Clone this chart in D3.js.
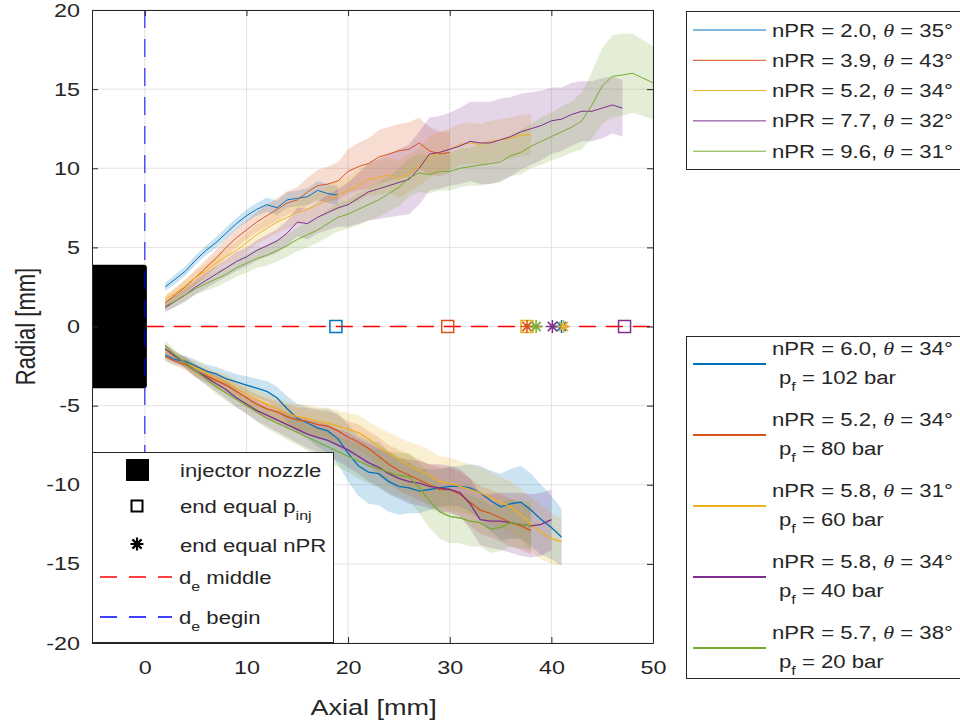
<!DOCTYPE html>
<html>
<head>
<meta charset="utf-8">
<script src="https://cdn.jsdelivr.net/npm/d3@7"></script>
<style>
  body { margin: 0; background: #fff; }
  svg text { font-family: "Liberation Sans", Arial, sans-serif; fill: #262626; }
</style>
</head>
<body>
<div id="chart"></div>
<script>
// axial grid (mm) shared by all series, each series is cut where it ends
const axialGrid = [2,3,4,5,6,7,8,9,10,11,12,13,14,15,16,17,18,19,20,21,22,23,24,25,26,27,28,29,30,31,32,33,34,35,36,37,38,39,40,41,42,43,44,45,46,47,48,49,50];

const colors = ["#0072BD", "#D95319", "#EDB120", "#7E2F8E", "#77AC30"];

// upper half: nPR series
const upLabels = [["2.0", "35"], ["3.9", "43"], ["5.2", "34"], ["7.7", "32"], ["9.6", "31"]];
const upBlue   = [2.5,3.0,3.5,4.2,4.8,5.3,5.9,6.5,7.0,7.4,7.7,7.5,8.0,8.1,8.2,8.6,8.4,8.3];
const upBlueW  = [0.25,0.3,0.3,0.3,0.3,0.35,0.35,0.35,0.4,0.4,0.45,0.45,0.5,0.5,0.55,0.6,0.6,0.6];
const upOrange = [1.5,2.0,2.5,3.1,3.7,4.3,5.0,5.6,6.1,6.6,7.0,7.4,7.8,8.0,8.5,8.9,9.0,9.2,9.8,10.1,10.3,10.7,10.9,11.1,11.2,11.6,11.1,10.9,11.0];
const upOrangeW = [0.4,0.4,0.45,0.5,0.5,0.55,0.6,0.6,0.6,0.65,0.7,0.7,0.75,0.8,0.9,1.0,1.1,1.2,1.4,1.5,1.6,1.7,1.7,1.7,1.7,1.6,1.5,1.4,1.3];
const upYellow = [1.7,2.1,2.6,3.1,3.5,4.0,4.4,4.8,5.3,5.8,6.2,6.6,6.9,7.2,7.4,7.7,8.0,8.3,8.6,8.9,9.3,9.4,9.6,9.3,9.7,10.1,10.7,11.0,11.2,11.5,11.6,11.5,11.7,11.8,11.9,12.1,12.1];
const upYellowW = [0.3,0.35,0.4,0.4,0.45,0.5,0.5,0.55,0.6,0.6,0.65,0.7,0.7,0.75,0.8,0.8,0.85,0.9,0.9,1.0,1.0,1.1,1.1,1.2,1.2,1.2,1.3,1.3,1.3,1.3,1.3,1.3,1.3,1.3,1.3,1.3,1.3];
const upPurple = [1.2,1.6,2.0,2.5,2.9,3.3,3.7,4.1,4.4,4.8,5.1,5.4,5.9,6.6,6.5,6.9,7.2,7.5,7.7,8.1,8.5,8.7,8.9,9.1,9.3,10.0,10.9,11.0,11.2,11.4,11.7,11.6,11.6,11.8,12.0,12.3,12.5,12.7,13.0,13.1,13.4,13.6,13.6,13.8,14.0,13.8];
const upPurpleW = [0.3,0.35,0.4,0.45,0.5,0.5,0.55,0.6,0.6,0.65,0.7,0.75,0.8,0.9,1.0,1.0,1.1,1.2,1.4,1.6,1.8,1.9,2.0,2.1,2.2,2.3,2.3,2.3,2.3,2.4,2.5,2.6,2.6,2.6,2.5,2.4,2.3,2.2,2.1,2.0,2.0,1.9,1.9,1.9,1.8,1.8];
const upGreen  = [1.3,1.6,2.0,2.4,2.7,3.0,3.3,3.7,4.0,4.3,4.5,4.8,5.1,5.5,5.8,6.1,6.5,6.9,7.1,7.4,7.7,8.0,8.4,8.8,9.4,9.7,9.6,9.8,9.8,10.0,10.1,10.2,10.3,10.4,10.8,11.0,11.4,11.7,12.0,12.3,12.6,13.0,14.0,15.2,15.8,15.9,16.0,15.7,15.4];
const upGreenW = [0.3,0.35,0.4,0.4,0.45,0.5,0.5,0.55,0.6,0.6,0.65,0.7,0.7,0.75,0.8,0.8,0.85,0.9,0.9,1.0,1.0,1.1,1.1,1.2,1.2,1.2,1.2,1.2,1.2,1.2,1.2,1.3,1.3,1.3,1.3,1.4,1.4,1.5,1.5,1.6,1.6,1.8,2.1,2.4,2.6,2.6,2.5,2.4,2.3];

// lower half: chamber pressure series
const lowLabels = [["6.0", "34", "102"], ["5.2", "34", "80"], ["5.8", "31", "60"], ["5.8", "34", "40"], ["5.7", "38", "20"]];
const lowBlue   = [-1.8,-2.1,-2.2,-2.5,-2.8,-3.0,-3.3,-3.5,-3.7,-3.9,-4.1,-4.5,-5.2,-5.8,-6.1,-6.4,-6.6,-7.1,-8.0,-8.8,-9.2,-9.3,-9.8,-10.1,-10.2,-10.4,-10.3,-10.2,-10.1,-10.1,-10.2,-10.5,-11.0,-11.4,-11.2,-11.1,-11.6,-12.2,-12.7,-13.3];
const lowBlueW  = [0.3,0.3,0.35,0.4,0.4,0.45,0.5,0.5,0.55,0.6,0.65,0.7,0.8,0.9,1.0,1.2,1.4,1.6,1.8,1.9,2.0,2.0,1.9,1.8,1.6,1.4,1.3,1.2,1.2,1.3,1.5,1.7,1.9,2.1,2.2,2.3,2.3,2.2,2.0,1.8];
const lowOrange = [-1.9,-2.2,-2.4,-2.8,-3.1,-3.4,-3.7,-4.1,-4.5,-4.9,-5.2,-5.4,-5.7,-5.9,-6.0,-6.2,-6.3,-6.6,-7.0,-7.3,-7.7,-8.2,-8.7,-9.1,-9.4,-9.7,-10.0,-10.3,-10.3,-10.6,-11.1,-11.6,-11.8,-12.1,-12.4,-12.6,-12.9];
const lowOrangeW = [0.3,0.3,0.35,0.4,0.4,0.45,0.5,0.5,0.55,0.6,0.65,0.7,0.75,0.8,0.85,0.9,0.95,1.0,1.0,1.1,1.1,1.2,1.2,1.3,1.3,1.3,1.3,1.4,1.4,1.4,1.5,1.5,1.5,1.5,1.5,1.5,1.5];
const lowYellow = [-1.5,-1.9,-2.3,-2.6,-2.9,-3.3,-3.5,-3.9,-4.3,-4.6,-4.9,-5.2,-5.5,-5.7,-5.8,-6.0,-6.1,-6.3,-6.5,-6.7,-7.1,-7.6,-8.0,-8.4,-8.8,-9.1,-9.4,-9.8,-9.9,-10.1,-10.3,-10.5,-10.8,-11.1,-11.4,-11.9,-12.5,-13.0,-13.4,-13.6];
const lowYellowW = [0.3,0.3,0.35,0.4,0.4,0.45,0.5,0.5,0.55,0.6,0.65,0.7,0.75,0.8,0.85,0.9,0.95,1.0,1.0,1.1,1.1,1.2,1.3,1.4,1.5,1.6,1.6,1.6,1.6,1.6,1.6,1.6,1.6,1.6,1.6,1.6,1.7,1.7,1.6,1.5];
const lowPurple = [-1.4,-1.9,-2.3,-2.8,-3.2,-3.6,-4.0,-4.5,-4.9,-5.3,-5.6,-5.9,-6.2,-6.5,-6.8,-7.0,-7.2,-7.5,-7.8,-8.2,-8.6,-8.9,-9.3,-9.6,-9.8,-9.9,-10.1,-10.2,-10.3,-10.5,-11.2,-12.2,-12.3,-12.3,-12.4,-12.5,-12.6,-12.5,-12.2];
const lowPurpleW = [0.3,0.3,0.35,0.4,0.45,0.5,0.55,0.6,0.6,0.65,0.7,0.75,0.8,0.85,0.9,0.95,1.0,1.0,1.1,1.1,1.2,1.2,1.3,1.3,1.4,1.4,1.4,1.5,1.5,1.5,1.6,1.6,1.7,1.8,1.9,2.0,2.0,2.0,1.9];
const lowGreen  = [-1.2,-1.8,-2.3,-2.8,-3.3,-3.8,-4.2,-4.6,-5.0,-5.4,-5.8,-6.1,-6.4,-6.7,-7.0,-7.3,-7.6,-7.9,-8.2,-8.5,-8.8,-9.0,-9.2,-9.4,-9.5,-10.2,-11.0,-11.7,-12.0,-12.1,-12.3,-12.4,-12.8,-12.7,-12.4,-12.5,-12.6];
const lowGreenW = [0.3,0.3,0.35,0.4,0.4,0.45,0.5,0.5,0.55,0.6,0.65,0.7,0.75,0.8,0.85,0.9,0.95,1.0,1.0,1.1,1.1,1.2,1.3,1.4,1.5,1.6,1.7,1.7,1.7,1.6,1.6,1.5,1.5,1.5,1.5,1.5,1.5];

// end markers on the axis (x in mm, colour index)
const squareEnds = [[18.8, 0], [29.8, 1], [37.6, 2], [47.2, 3]];
const starEnds = [[37.6, 1], [38.5, 4], [40.1, 3], [41.0, 0], [41.2, 2]];

const nozzleHalf = 3.9;
const nozzleEnd = 0.2;

const xTicks = [0, 10, 20, 30, 40, 50];
const yTicks = [-20, -15, -10, -5, 0, 5, 10, 15, 20];

const upSeries = [[upBlue, upBlueW], [upOrange, upOrangeW], [upYellow, upYellowW], [upPurple, upPurpleW], [upGreen, upGreenW]];
const lowSeries = [[lowBlue, lowBlueW], [lowOrange, lowOrangeW], [lowYellow, lowYellowW], [lowPurple, lowPurpleW], [lowGreen, lowGreenW]];

const W = 960, H = 724;
const L = 92, T = 10, R = 653, B = 643;
const SX = 1.23; // the figure text is stretched sideways

const svg = d3.select("#chart").append("svg").attr("width", W).attr("height", H);

const x = d3.scaleLinear().domain([-5.2, 50]).range([L, R]);
const y = d3.scaleLinear().domain([-20, 20]).range([B, T]);

svg.append("clipPath").attr("id", "clip")
  .append("rect").attr("x", L).attr("y", T).attr("width", R - L).attr("height", B - T);

// text placed in a stretched group
function stext(g, px, py, size, anchor) {
  return g.append("g").attr("transform", `translate(${px},${py}) scale(${SX},1)`)
    .append("text").attr("font-size", size).attr("text-anchor", anchor || "start");
}

// grid
const grid = svg.append("g");
grid.selectAll(".gx").data(xTicks).enter().append("line")
  .attr("x1", d => x(d)).attr("x2", d => x(d)).attr("y1", T).attr("y2", B)
  .attr("stroke", "#e3e3e3").attr("stroke-width", 1);
grid.selectAll(".gy").data(yTicks).enter().append("line")
  .attr("x1", L).attr("x2", R).attr("y1", d => y(d)).attr("y2", d => y(d))
  .attr("stroke", "#e3e3e3").attr("stroke-width", 1);

const plot = svg.append("g").attr("clip-path", "url(#clip)");

// nozzle
plot.append("rect")
  .attr("x", x(-5.2) - 6).attr("y", y(nozzleHalf))
  .attr("width", x(nozzleEnd) - x(-5.2) + 6).attr("height", y(-nozzleHalf) - y(nozzleHalf))
  .attr("rx", 3).attr("fill", "#000");

// d_e begin
plot.append("line")
  .attr("x1", x(0)).attr("x2", x(0)).attr("y1", y(20)).attr("y2", y(-20))
  .attr("stroke", "#0000ff").attr("stroke-width", 1).attr("stroke-dasharray", "18,11");

function drawSet(set, width) {
  set.forEach((s, i) => {
    const pts = s[0].map((v, k) => ({ x: axialGrid[k], y: v, w: s[1][k] }));
    plot.append("path").datum(pts)
      .attr("d", d3.area().x(d => x(d.x)).y0(d => y(d.y - d.w)).y1(d => y(d.y + d.w)))
      .attr("fill", colors[i]).attr("fill-opacity", 0.2);
  });
  set.forEach((s, i) => {
    const pts = s[0].map((v, k) => ({ x: axialGrid[k], y: v }));
    plot.append("path").datum(pts)
      .attr("d", d3.line().x(d => x(d.x)).y(d => y(d.y)))
      .attr("fill", "none").attr("stroke", colors[i]).attr("stroke-width", width);
  });
}
drawSet(upSeries, 1);
drawSet(lowSeries, 1.3);

// d_e middle
plot.append("line")
  .attr("x1", x(nozzleEnd)).attr("x2", x(50)).attr("y1", y(0)).attr("y2", y(0))
  .attr("stroke", "#ff0000").attr("stroke-width", 1.5).attr("stroke-dasharray", "17,10");

const starPath = "M-6.5,0H6.5M0,-6.5V6.5M-4.6,-4.6L4.6,4.6M-4.6,4.6L4.6,-4.6";
plot.selectAll(".sq").data(squareEnds).enter().append("rect")
  .attr("x", d => x(d[0]) - 6).attr("y", y(0) - 6).attr("width", 12).attr("height", 12)
  .attr("fill", "none").attr("stroke", d => colors[d[1]]).attr("stroke-width", 1.5);
plot.selectAll(".st").data(starEnds).enter().append("path")
  .attr("transform", d => `translate(${x(d[0])},${y(0)})`)
  .attr("d", starPath).attr("fill", "none").attr("stroke", d => colors[d[1]]).attr("stroke-width", 1.5);

// axes with inside ticks
const axisStyle = g => {
  g.select(".domain").attr("stroke", "#262626");
  g.selectAll(".tick line").attr("stroke", "#262626");
  g.selectAll("text").attr("font-size", 19).attr("fill", "#262626")
    .attr("font-family", "Liberation Sans, Arial, sans-serif");
};
const bottomAxis = svg.append("g").attr("transform", `translate(0,${B})`)
  .call(d3.axisBottom(x).tickValues(xTicks).tickSize(-6).tickSizeOuter(0).tickPadding(18).tickFormat(d => String(d)))
  .call(axisStyle);
bottomAxis.selectAll("text").attr("transform", `scale(${SX},1)`);
svg.append("g").attr("transform", `translate(0,${T})`)
  .call(d3.axisTop(x).tickValues(xTicks).tickSize(-6).tickSizeOuter(0).tickFormat("")).call(axisStyle);
const leftAxis = svg.append("g").attr("transform", `translate(${L},0)`)
  .call(d3.axisLeft(y).tickValues(yTicks).tickSize(-6).tickSizeOuter(0).tickFormat(d => String(d)))
  .call(axisStyle);
leftAxis.selectAll("text").attr("x", -12 / SX).attr("transform", `scale(${SX},1)`);
svg.append("g").attr("transform", `translate(${R},0)`)
  .call(d3.axisRight(y).tickValues(yTicks).tickSize(-6).tickSizeOuter(0).tickFormat("")).call(axisStyle);

stext(svg, x(22.5), 715, 22, "middle").text("Axial [mm]");
svg.append("g").attr("transform", `translate(35,${y(0)}) scale(${SX},1) rotate(-90)`)
  .append("text").attr("text-anchor", "middle").attr("font-size", 22).text("Radial [mm]");

// θ label helper
function nprText(g, px, py, npr, theta) {
  const t = stext(g, px, py, 18);
  t.append("tspan").text(`nPR = ${npr}, `);
  t.append("tspan").attr("font-family", "Liberation Serif, serif").attr("font-style", "italic").text("θ");
  t.append("tspan").text(` = ${theta}°`);
}

// top right legend
const lg1 = svg.append("g");
lg1.append("rect").attr("x", 686.5).attr("y", 11.5).attr("width", 290).attr("height", 158)
  .attr("fill", "#fff").attr("stroke", "#262626");
upLabels.forEach((d, i) => {
  const cy = 30 + i * 30.3;
  lg1.append("line").attr("x1", 693).attr("x2", 766).attr("y1", cy).attr("y2", cy)
    .attr("stroke", colors[i]).attr("stroke-width", 1);
  nprText(lg1, 772, cy + 6.5, d[0], d[1]);
});

// bottom right legend
const lg2 = svg.append("g");
lg2.append("rect").attr("x", 686.5).attr("y", 336.5).attr("width", 290).attr("height", 342)
  .attr("fill", "#fff").attr("stroke", "#262626");
lowLabels.forEach((d, i) => {
  const cy = 364 + i * 71;
  lg2.append("line").attr("x1", 693).attr("x2", 766).attr("y1", cy).attr("y2", cy)
    .attr("stroke", colors[i]).attr("stroke-width", 2);
  nprText(lg2, 772, cy - 9, d[0], d[1]);
  const t = stext(lg2, 779, cy + 20, 18);
  t.append("tspan").text("p");
  t.append("tspan").attr("font-size", 13).attr("dy", 7).text("f");
  t.append("tspan").attr("dy", -7).text(` = ${d[2]} bar`);
});

// bottom left legend
const lg3 = svg.append("g");
lg3.append("rect").attr("x", 92.5).attr("y", 452.5).attr("width", 241).attr("height", 190)
  .attr("fill", "#fff").attr("stroke", "#262626");
lg3.append("rect").attr("x", 126).attr("y", 459).attr("width", 23).attr("height", 22).attr("fill", "#000");
lg3.append("rect").attr("x", 131.5).attr("y", 500.5).attr("width", 11).attr("height", 11)
  .attr("fill", "none").attr("stroke", "#000").attr("stroke-width", 2);
lg3.append("path").attr("transform", "translate(137,544)").attr("d", starPath)
  .attr("fill", "none").attr("stroke", "#000").attr("stroke-width", 2.2);
lg3.append("line").attr("x1", 100).attr("x2", 172).attr("y1", 577).attr("y2", 577)
  .attr("stroke", "#ff0000").attr("stroke-width", 1.5).attr("stroke-dasharray", "17,12");
lg3.append("line").attr("x1", 100).attr("x2", 172).attr("y1", 617).attr("y2", 617)
  .attr("stroke", "#0000ff").attr("stroke-width", 1.5).attr("stroke-dasharray", "17,12");

stext(lg3, 180, 477, 18).text("injector nozzle");
const pinj = stext(lg3, 180, 513, 18);
pinj.append("tspan").text("end equal p");
pinj.append("tspan").attr("font-size", 13).attr("dy", 7).text("inj");
stext(lg3, 180, 552, 18).text("end equal nPR");
[["middle", 584], ["begin", 624]].forEach(d => {
  const t = stext(lg3, 179, d[1], 18);
  t.append("tspan").text("d");
  t.append("tspan").attr("font-size", 13).attr("dy", 7).text("e");
  t.append("tspan").attr("dy", -7).text(` ${d[0]}`);
});
</script>
</body>
</html>
